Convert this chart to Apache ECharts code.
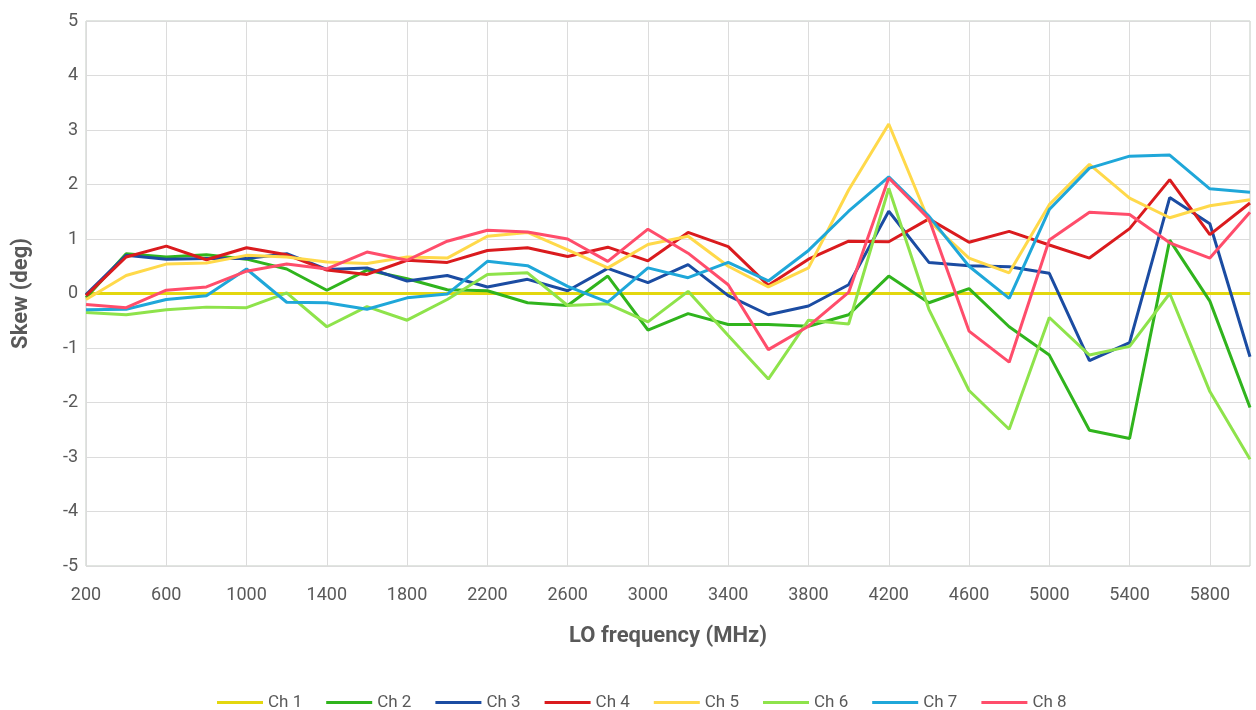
<!DOCTYPE html>
<html>
<head>
<meta charset="utf-8">
<title>Skew vs LO frequency</title>
<script src="https://cdn.jsdelivr.net/npm/echarts@6/dist/echarts.min.js"></script>
<style>
  html, body { margin: 0; padding: 0; background: #fff; }
  #chart { width: 1256px; height: 710px; }
</style>
</head>
<body>
<div id="chart"></div>
<script>
// LO frequency (MHz)
const freqs = ['200', '400', '600', '800', '1000', '1200', '1400', '1600', '1800', '2000',
  '2200', '2400', '2600', '2800', '3000', '3200', '3400', '3600', '3800', '4000',
  '4200', '4400', '4600', '4800', '5000', '5200', '5400', '5600', '5800', '6000']

// skew (deg) per channel
const ch1 = [0, 0, 0, 0, 0, 0, 0, 0, 0, 0, 0, 0, 0, 0, 0, 0, 0, 0, 0, 0, 0, 0, 0, 0, 0, 0, 0, 0, 0, 0]
const ch2 = [-0.08, 0.73, 0.67, 0.71, 0.63, 0.45, 0.06, 0.43, 0.27, 0.07,
  0.05, -0.17, -0.22, 0.32, -0.67, -0.37, -0.57, -0.57, -0.6, -0.39,
  0.32, -0.17, 0.09, -0.61, -1.13, -2.51, -2.66, 0.98, -0.14, -2.09]
const ch3 = [-0.02, 0.70, 0.63, 0.64, 0.64, 0.73, 0.44, 0.47, 0.23, 0.33,
  0.12, 0.26, 0.05, 0.46, 0.2, 0.53, -0.04, -0.39, -0.23, 0.16,
  1.51, 0.57, 0.51, 0.49, 0.37, -1.23, -0.9, 1.76, 1.28, -1.16]
const ch4 = [-0.04, 0.67, 0.87, 0.62, 0.84, 0.71, 0.43, 0.35, 0.61, 0.57,
  0.79, 0.84, 0.68, 0.85, 0.6, 1.12, 0.86, 0.15, 0.63, 0.96,
  0.95, 1.37, 0.94, 1.14, 0.89, 0.65, 1.19, 2.09, 1.08, 1.66]
const ch5 = [-0.11, 0.33, 0.54, 0.56, 0.7, 0.67, 0.58, 0.55, 0.67, 0.65,
  1.05, 1.12, 0.8, 0.47, 0.9, 1.05, 0.5, 0.12, 0.47, 1.9,
  3.11, 1.33, 0.65, 0.38, 1.63, 2.37, 1.75, 1.39, 1.61, 1.72]
const ch6 = [-0.35, -0.39, -0.3, -0.25, -0.26, 0.01, -0.61, -0.24, -0.49, -0.11,
  0.35, 0.38, -0.22, -0.19, -0.52, 0.04, -0.77, -1.57, -0.49, -0.56,
  1.93, -0.29, -1.78, -2.49, -0.44, -1.13, -0.97, 0.0, -1.8, -3.04]
const ch7 = [-0.3, -0.29, -0.11, -0.04, 0.45, -0.16, -0.17, -0.29, -0.08, -0.01,
  0.59, 0.51, 0.13, -0.16, 0.47, 0.29, 0.57, 0.23, 0.79, 1.51,
  2.14, 1.42, 0.5, -0.09, 1.54, 2.3, 2.52, 2.54, 1.92, 1.86]
const ch8 = [-0.2, -0.26, 0.06, 0.12, 0.41, 0.54, 0.45, 0.76, 0.61, 0.96,
  1.16, 1.13, 1.0, 0.59, 1.18, 0.74, 0.16, -1.03, -0.6, 0.02,
  2.12, 1.37, -0.69, -1.26, 0.98, 1.49, 1.45, 0.93, 0.65, 1.49]

const names = ['Ch 1', 'Ch 2', 'Ch 3', 'Ch 4', 'Ch 5', 'Ch 6', 'Ch 7', 'Ch 8']
const values = [ch1, ch2, ch3, ch4, ch5, ch6, ch7, ch8]
const colors = ['#e3d70f', '#30b41d', '#1b4ca2', '#da1b1e', '#ffd94a', '#8ee34b', '#1fa7d9', '#ff4d6b']

const textColor = '#595959'
const font = 'Roboto, "Noto Sans", sans-serif'

let chart = echarts.init(document.getElementById('chart'))

let series = []
for (let i = 0; i < names.length; i++) {
  series.push({
    name: names[i],
    type: 'line',
    symbol: 'none',
    smooth: false,
    lineStyle: {color: colors[i], width: 3},
    itemStyle: {color: colors[i]},
    data: values[i]
  })
}

chart.setOption({
  animation: false,
  color: colors,
  textStyle: {fontFamily: font},
  grid: {
    left: 86,
    right: 6,
    top: 21,
    bottom: 144,
    show: true,
    borderColor: '#c3cbc3',
    borderWidth: 1
  },
  legend: {
    top: 689,
    left: 212,
    icon: 'rect',
    itemWidth: 46,
    itemHeight: 3,
    itemGap: 24,
    textStyle: {color: textColor, fontSize: 17, fontFamily: font},
    data: names
  },
  xAxis: {
    type: 'category',
    boundaryGap: false,
    data: freqs,
    name: 'LO frequency (MHz)',
    nameLocation: 'middle',
    nameGap: 59,
    nameTextStyle: {color: textColor, fontSize: 22, fontWeight: 'bold', fontFamily: font},
    axisLine: {show: true, lineStyle: {color: '#bfbfbf', width: 1}},
    axisTick: {show: false},
    axisLabel: {interval: 1, margin: 20, color: textColor, fontSize: 18, fontFamily: font},
    splitLine: {show: true, interval: 1, lineStyle: {color: '#dcdcdc', width: 1}}
  },
  yAxis: {
    type: 'value',
    min: -5,
    max: 5,
    interval: 1,
    name: 'Skew (deg)',
    nameLocation: 'middle',
    nameGap: 54,
    nameTextStyle: {color: textColor, fontSize: 22, fontWeight: 'bold', fontFamily: font},
    axisLine: {show: false},
    axisTick: {show: false},
    axisLabel: {margin: 8, color: textColor, fontSize: 18, fontFamily: font},
    splitLine: {show: true, lineStyle: {color: '#dcdcdc', width: 1}}
  },
  series: series
})
</script>
</body>
</html>
